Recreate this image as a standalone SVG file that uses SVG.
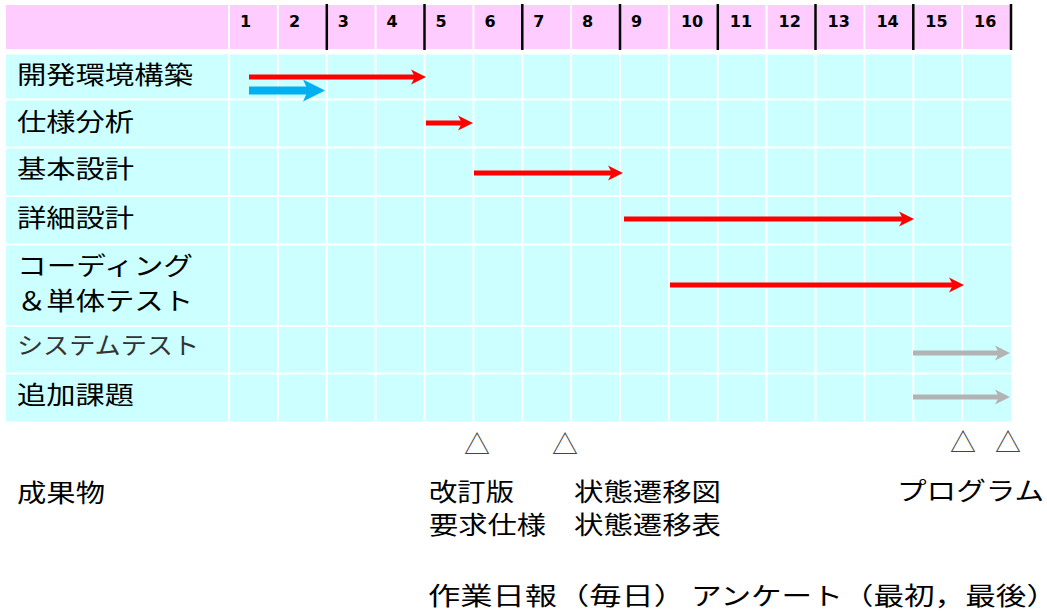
<svg xmlns="http://www.w3.org/2000/svg" width="1047" height="612" viewBox="0 0 1047 612">
  <style>
    .lbl { font-family: "Noto Sans CJK JP", "Noto Sans", sans-serif; font-size: 24.5px; fill: #000; dominant-baseline: central; }
    .lite { fill: #333; font-size: 23.5px; }
    .num { font-family: "DejaVu Sans", Verdana, sans-serif; font-weight: bold; font-size: 16px; fill: #000; }
    .tri { font-family: "Noto Sans CJK JP", sans-serif; font-size: 26px; fill: #444; text-anchor: middle; dominant-baseline: central; }
    .sep { stroke: #fff; stroke-width: 2; }
    .tick { stroke: #000; stroke-width: 2.5; }
    .red { stroke: #ff0000; stroke-width: 5; fill: none; marker-end: url(#headRed); }
    .gray { stroke: #b3b3b3; stroke-width: 5; fill: none; marker-end: url(#headGray); }
    .blue { stroke: #00b0f0; stroke-width: 8; fill: none; marker-end: url(#headBlue); }
  </style>
  <defs>
    <marker id="headRed" markerUnits="userSpaceOnUse" markerWidth="16" markerHeight="16" refX="7" refY="8" orient="auto">
      <path d="M0,0.5 L15,8 L0,15.5 L4,8 Z" fill="#ff0000"/>
    </marker>
    <marker id="headGray" markerUnits="userSpaceOnUse" markerWidth="16" markerHeight="16" refX="7" refY="8" orient="auto">
      <path d="M0,0.5 L15,8 L0,15.5 L4,8 Z" fill="#b3b3b3"/>
    </marker>
    <marker id="headBlue" markerUnits="userSpaceOnUse" markerWidth="23" markerHeight="23" refX="10" refY="11" orient="auto">
      <path d="M0,0 L22,11 L0,22 L5,11 Z" fill="#00b0f0"/>
    </marker>
  </defs>

  <rect width="1047" height="612" fill="#fff"/>

  <!-- chart grid: header band and task band -->
  <g id="grid">
    <rect x="6" y="5" width="1005" height="44" fill="#ffccff"/>
    <rect x="6" y="54.5" width="1005" height="367" fill="#ccffff"/>
    <g class="sep">
      <line x1="229" y1="4" x2="229" y2="422"/>
      <line x1="277.9" y1="4" x2="277.9" y2="422"/>
      <line x1="326.8" y1="4" x2="326.8" y2="422"/>
      <line x1="375.6" y1="4" x2="375.6" y2="422"/>
      <line x1="424.5" y1="4" x2="424.5" y2="422"/>
      <line x1="473.4" y1="4" x2="473.4" y2="422"/>
      <line x1="522.3" y1="4" x2="522.3" y2="422"/>
      <line x1="571.1" y1="4" x2="571.1" y2="422"/>
      <line x1="620" y1="4" x2="620" y2="422"/>
      <line x1="668.9" y1="4" x2="668.9" y2="422"/>
      <line x1="717.8" y1="4" x2="717.8" y2="422"/>
      <line x1="766.6" y1="4" x2="766.6" y2="422"/>
      <line x1="815.5" y1="4" x2="815.5" y2="422"/>
      <line x1="864.4" y1="4" x2="864.4" y2="422"/>
      <line x1="913.3" y1="4" x2="913.3" y2="422"/>
      <line x1="962.1" y1="4" x2="962.1" y2="422"/>
      <line x1="5" y1="99.5" x2="1012" y2="99.5"/>
      <line x1="5" y1="147.5" x2="1012" y2="147.5"/>
      <line x1="5" y1="196" x2="1012" y2="196"/>
      <line x1="5" y1="244.5" x2="1012" y2="244.5"/>
      <line x1="5" y1="326" x2="1012" y2="326"/>
      <line x1="5" y1="373.5" x2="1012" y2="373.5"/>
    </g>
    <!-- two-week markers in the header -->
    <g class="tick">
      <line x1="326.8" y1="4" x2="326.8" y2="50"/>
      <line x1="424.5" y1="4" x2="424.5" y2="50"/>
      <line x1="522.3" y1="4" x2="522.3" y2="50"/>
      <line x1="620" y1="4" x2="620" y2="50"/>
      <line x1="717.8" y1="4" x2="717.8" y2="50"/>
      <line x1="815.5" y1="4" x2="815.5" y2="50"/>
      <line x1="913.3" y1="4" x2="913.3" y2="50"/>
      <line x1="1011" y1="4" x2="1011" y2="50"/>
    </g>
  </g>

  <!-- period numbers -->
  <g id="header" class="num">
    <text x="240" y="26.5">1</text>
    <text x="288.9" y="26.5">2</text>
    <text x="337.8" y="26.5">3</text>
    <text x="386.6" y="26.5">4</text>
    <text x="435.5" y="26.5">5</text>
    <text x="484.4" y="26.5">6</text>
    <text x="533.3" y="26.5">7</text>
    <text x="582.1" y="26.5">8</text>
    <text x="631" y="26.5">9</text>
    <text x="680.9" y="26.5">10</text>
    <text x="729.8" y="26.5">11</text>
    <text x="778.6" y="26.5">12</text>
    <text x="827.5" y="26.5">13</text>
    <text x="876.4" y="26.5">14</text>
    <text x="925.3" y="26.5">15</text>
    <text x="974.1" y="26.5">16</text>
  </g>

  <!-- task rows -->
  <g id="task-env"><text class="lbl" x="17" y="73.5" textLength="176" lengthAdjust="spacingAndGlyphs">開発環境構築</text></g>
  <g id="task-spec"><text class="lbl" x="17" y="120" textLength="117" lengthAdjust="spacingAndGlyphs">仕様分析</text></g>
  <g id="task-basic"><text class="lbl" x="17" y="167.5" textLength="117" lengthAdjust="spacingAndGlyphs">基本設計</text></g>
  <g id="task-detail"><text class="lbl" x="17" y="216" textLength="117" lengthAdjust="spacingAndGlyphs">詳細設計</text></g>
  <g id="task-coding">
    <text class="lbl" x="17" y="264.5" textLength="176" lengthAdjust="spacingAndGlyphs">コーディング</text>
    <text class="lbl" x="17" y="299.5" textLength="176" lengthAdjust="spacingAndGlyphs">＆単体テスト</text>
  </g>
  <g id="task-systest"><text class="lbl lite" x="17" y="344" textLength="182" lengthAdjust="spacingAndGlyphs">システムテスト</text></g>
  <g id="task-extra"><text class="lbl" x="17" y="393.5" textLength="117" lengthAdjust="spacingAndGlyphs">追加課題</text></g>

  <!-- schedule bars -->
  <g id="connectors">
    <line class="red" x1="249" y1="77" x2="418" y2="77"/>
    <line class="blue" x1="249" y1="90.5" x2="313" y2="90.5"/>
    <line class="red" x1="426" y1="123" x2="465" y2="123"/>
    <line class="red" x1="474" y1="173" x2="615" y2="173"/>
    <line class="red" x1="624" y1="219" x2="906" y2="219"/>
    <line class="red" x1="670" y1="285" x2="956" y2="285"/>
    <line class="gray" x1="913" y1="353" x2="1002" y2="353"/>
    <line class="gray" x1="913" y1="397" x2="1002" y2="397"/>
  </g>

  <!-- deliverable milestones -->
  <g id="milestones">
    <text class="tri" x="477" y="442">△</text>
    <text class="tri" x="565" y="442">△</text>
    <text class="tri" x="963" y="440">△</text>
    <text class="tri" x="1008" y="440">△</text>
  </g>

  <g id="deliverables">
    <text class="lbl" x="17" y="491" textLength="88" lengthAdjust="spacingAndGlyphs">成果物</text>
    <text class="lbl" x="429" y="490" textLength="85" lengthAdjust="spacingAndGlyphs">改訂版</text>
    <text class="lbl" x="429" y="523" textLength="117" lengthAdjust="spacingAndGlyphs">要求仕様</text>
    <text class="lbl" x="574" y="490" textLength="147" lengthAdjust="spacingAndGlyphs">状態遷移図</text>
    <text class="lbl" x="574" y="523" textLength="147" lengthAdjust="spacingAndGlyphs">状態遷移表</text>
    <text class="lbl" x="897" y="489" textLength="147" lengthAdjust="spacingAndGlyphs">プログラム</text>
    <text class="lbl" x="428" y="594" textLength="258" lengthAdjust="spacingAndGlyphs">作業日報（毎日）</text>
    <text class="lbl" x="691" y="594" textLength="366" lengthAdjust="spacingAndGlyphs">アンケート（最初，最後）</text>
  </g>
</svg>
